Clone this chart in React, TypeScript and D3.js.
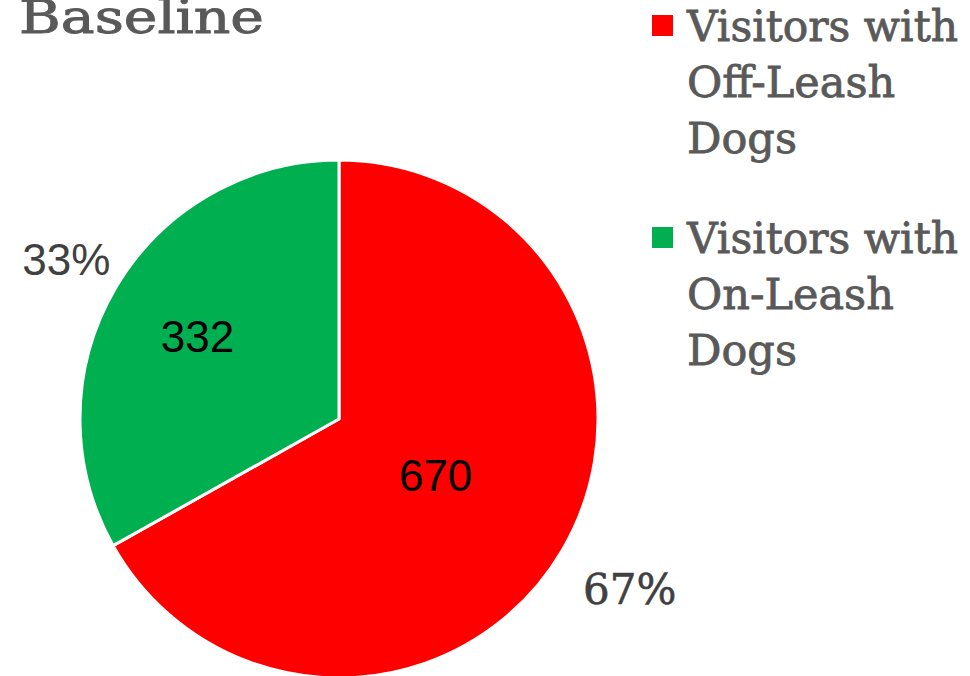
import React from "react";
import * as d3 from "d3";

const categories = ["Visitors with Off-Leash Dogs", "Visitors with On-Leash Dogs"];
const legendLines = [
  ["Visitors with", "Off-Leash", "Dogs"],
  ["Visitors with", "On-Leash", "Dogs"],
];
const values = [670, 332];
const colors = ["#FF0000", "#00B050"];
const title = "Baseline";

const W = 970;
const H = 676;
const cx = 339;
const cy = 419;
const R = 259;
const valueLabelRadius = [112, 164];
const pctLabelRadius = [337, 316];
const serif = "'DejaVu Serif', serif";
const sans = "'Liberation Sans', Arial, sans-serif";

export default function App() {
  const pie = d3.pie<number>().sort(null).value((d) => d)(values);
  const arc = d3.arc<d3.PieArcDatum<number>>().innerRadius(0).outerRadius(R);
  const total = d3.sum(values);
  const fmt = d3.format(".0%");

  return (
    <svg width={W} height={H} style={{ position: "absolute", left: 0, top: 0 }}>
      <rect width={W} height={H} fill="#fff" />
      <text x={19} y={33} fontFamily={serif} fontSize={46} fill="#595959" stroke="#595959" strokeWidth={0.9} textLength={245} lengthAdjust="spacingAndGlyphs">
        {title}
      </text>
      <g transform={`translate(${cx},${cy})`}>
        {pie.map((p, i) => (
          <path key={i} d={arc(p) || ""} fill={colors[i]} stroke="#fff" strokeWidth={3} strokeLinejoin="round" />
        ))}
        {pie.map((p, i) => {
          const a = (p.startAngle + p.endAngle) / 2;
          const r = valueLabelRadius[i];
          return (
            <text key={"v" + i} x={Math.sin(a) * r} y={-Math.cos(a) * r} dy="0.36em" textAnchor="middle" fontFamily={sans} fontSize={44} fill="#000">
              {p.data}
            </text>
          );
        })}
        {pie.map((p, i) => {
          const a = (p.startAngle + p.endAngle) / 2;
          const r = pctLabelRadius[i];
          return (
            <text key={"p" + i} x={Math.sin(a) * r} y={-Math.cos(a) * r} dy="0.36em" textAnchor="middle" fontFamily={i === 0 ? serif : sans} fontSize={i === 0 ? 42 : 44} fill="#404040" stroke={i === 0 ? "#404040" : "none"} strokeWidth={0.6}>
              {fmt(p.data / total)}
            </text>
          );
        })}
      </g>
      {categories.map((c, i) => {
        const y0 = 41 + i * 212;
        return (
          <g key={c}>
            <rect x={652} y={y0 - 26} width={21} height={21} fill={colors[i]} />
            {legendLines[i].map((ln, j) => (
              <text key={j} x={687} y={y0 + j * 56} fontFamily={serif} fontSize={43} fill="#595959" stroke="#595959" strokeWidth={0.8} {...(j === 0 ? { textLength: 271, lengthAdjust: "spacingAndGlyphs" } : {})}>
                {ln}
              </text>
            ))}
          </g>
        );
      })}
    </svg>
  );
}
